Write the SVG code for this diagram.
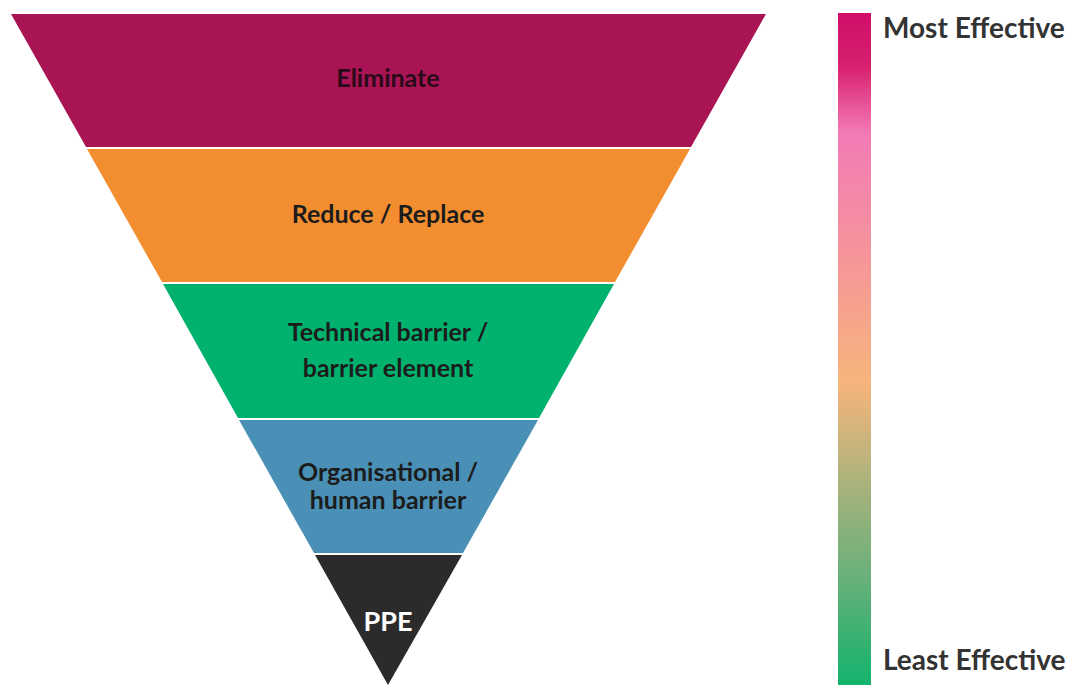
<svg xmlns="http://www.w3.org/2000/svg" width="1072" height="685" viewBox="0 0 1072 685">
<style>
.lbl{font-family:Lato,"Liberation Sans",sans-serif;font-weight:bold;font-size:25px;text-anchor:middle;fill:#1c1c1c}
.leg{font-family:Lato,"Liberation Sans",sans-serif;font-weight:bold;font-size:28px;fill:#333}
</style>
<defs>
<linearGradient id="g" x1="0" y1="0" x2="0" y2="1">
<stop offset="0" stop-color="#cf0e68"/>
<stop offset="0.08" stop-color="#d8216f"/>
<stop offset="0.18" stop-color="#f37bb6"/>
<stop offset="0.35" stop-color="#f5939c"/>
<stop offset="0.55" stop-color="#f7b57c"/>
<stop offset="0.7" stop-color="#aab27c"/>
<stop offset="0.85" stop-color="#64b07a"/>
<stop offset="1" stop-color="#13b36c"/>
</linearGradient>
</defs>
<rect width="1072" height="685" fill="#fff"/>
<g id="eliminate">
<polygon points="11,14 766,14 691,147 86,147" fill="#a91454"/>
<text class="lbl" x="388" y="87" style="fill:#2a0a18">Eliminate</text>
</g>
<g id="reduce">
<polygon points="87,149 690,149 615,282 162,282" fill="#f28e30"/>
<text class="lbl" x="388" y="223">Reduce / Replace</text>
</g>
<g id="technical">
<polygon points="163,284 614,284 539,418 238,418" fill="#00b26e"/>
<text class="lbl" x="388" y="341">Technical barrier /</text>
<text class="lbl" x="388" y="377">barrier element</text>
</g>
<g id="organisational">
<polygon points="239,420 538,420 463,553 314,553" fill="#4a90b6"/>
<text class="lbl" x="388" y="481">Organisational /</text>
<text class="lbl" x="388" y="509">human barrier</text>
</g>
<g id="ppe">
<polygon points="315,555 462,555 388,685" fill="#2b2b2b"/>
<text class="lbl" x="388" y="631" style="fill:#fff;font-size:27px">PPE</text>
</g>
<g id="legend">
<rect x="838" y="13" width="33" height="672" fill="url(#g)"/>
<text class="leg" x="883" y="38">Most Effective</text>
<text class="leg" x="883" y="670">Least Effective</text>
</g>
</svg>
